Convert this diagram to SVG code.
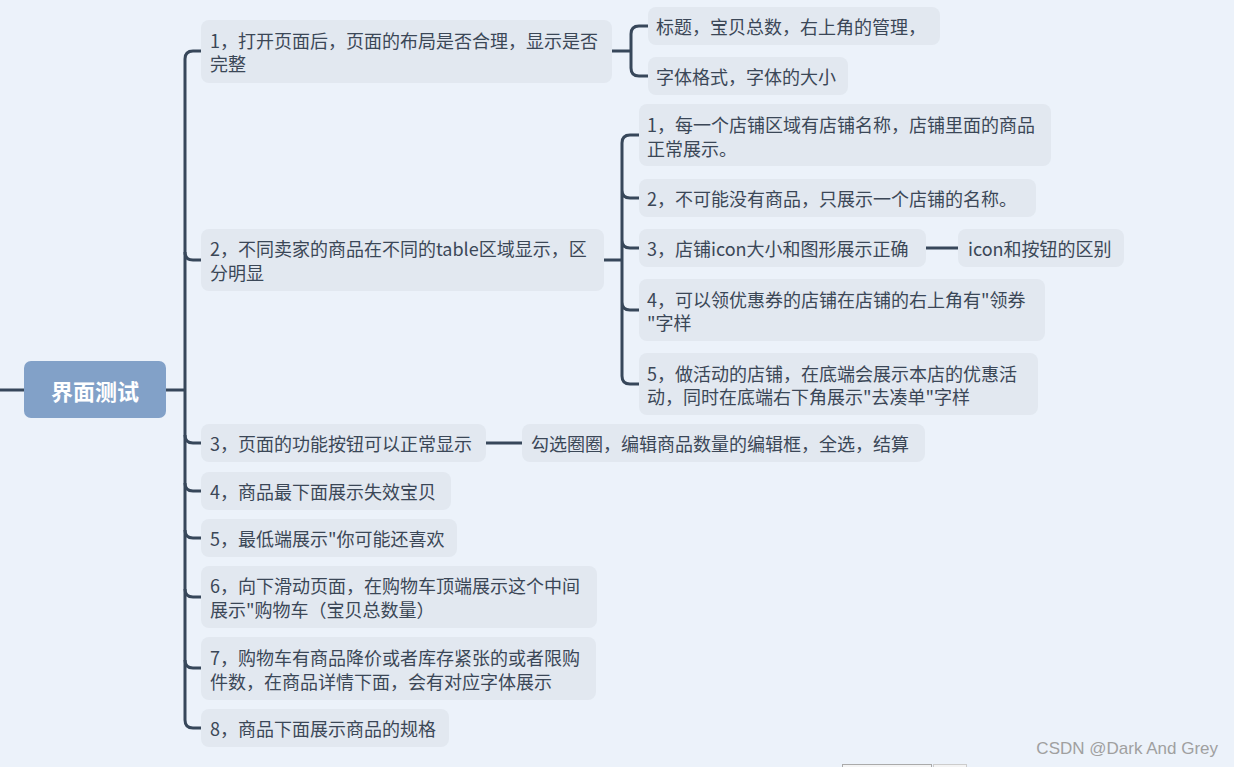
<svg xmlns="http://www.w3.org/2000/svg" width="1234" height="767" viewBox="0 0 1234 767">
<style>
.bg{fill:#ECF2FA}
.box{fill:#E2E8F0}
.t{font-family:"Noto Sans CJK SC","Noto Sans",sans-serif;font-size:18px;fill:#3B4757;dominant-baseline:central}
.root{fill:#82A1C8}
.rt{font-family:"Noto Sans CJK SC","Noto Sans",sans-serif;font-size:22px;font-weight:bold;fill:#FFFFFF;dominant-baseline:central;text-anchor:middle}
.c{fill:none;stroke:#37475A;stroke-width:3;stroke-linecap:butt}
</style>
<rect class="bg" x="0" y="0" width="1234" height="767"/>
<g id="connectors">
<path class="c" d="M0 390 H24 M166 390 H185"/>
<path class="c" d="M201 51 H193 Q185 51 185 59 V720 Q185 728 193 728 H201"/>
<path class="c" d="M185 252 Q185 260 193 260 H201 M185 435 Q185 443 193 443 H201 M185 483 Q185 491 193 491 H201 M185 530 Q185 538 193 538 H201 M185 589 Q185 597 193 597 H201 M185 660 Q185 668 193 668 H201"/>
<path class="c" d="M612 51 H631 M648 26 H639 Q631 26 631 34 V68 Q631 76 639 76 H648"/>
<path class="c" d="M604 260 H622 M639 135 H630 Q622 135 622 143 V376 Q622 384 630 384 H639 M622 190 Q622 198 630 198 H639 M622 240 Q622 248 630 248 H639 M622 302 Q622 310 630 310 H639"/>
<path class="c" d="M486 443 H522 M926 248 H958"/>
</g>
<g id="root"><rect class="root" x="24" y="361" width="142" height="57" rx="7"/><text class="rt" x="95" y="390">界面测试</text></g>
<g id="n1"><rect class="box" x="201" y="20" width="411" height="63" rx="8"/><text class="t"><tspan x="210" y="40">1，打开页面后，页面的布局是否合理，显示是否</tspan><tspan x="210" y="63">完整</tspan></text></g>
<g id="n1a"><rect class="box" x="648" y="7" width="292" height="38" rx="8"/><text class="t" x="656" y="26">标题，宝贝总数，右上角的管理，</text></g>
<g id="n1b"><rect class="box" x="648" y="57" width="200" height="38" rx="8"/><text class="t" x="656" y="76">字体格式，字体的大小</text></g>
<g id="n2"><rect class="box" x="201" y="229" width="403" height="62" rx="8"/><text class="t"><tspan x="210" y="248">2，不同卖家的商品在不同的table区域显示，区</tspan><tspan x="210" y="272">分明显</tspan></text></g>
<g id="n2a"><rect class="box" x="639" y="104" width="412" height="62" rx="8"/><text class="t"><tspan x="647" y="124">1，每一个店铺区域有店铺名称，店铺里面的商品</tspan><tspan x="647" y="148">正常展示。</tspan></text></g>
<g id="n2b"><rect class="box" x="639" y="179" width="397" height="38" rx="8"/><text class="t" x="647" y="198">2，不可能没有商品，只展示一个店铺的名称。</text></g>
<g id="n2c"><rect class="box" x="639" y="229" width="287" height="38" rx="8"/><text class="t" x="647" y="248">3，店铺icon大小和图形展示正确</text></g>
<g id="n2c1"><rect class="box" x="958" y="229" width="166" height="38" rx="8"/><text class="t" x="968" y="248">icon和按钮的区别</text></g>
<g id="n2d"><rect class="box" x="639" y="279" width="406" height="62" rx="8"/><text class="t"><tspan x="647" y="299">4，可以领优惠券的店铺在店铺的右上角有"领券</tspan><tspan x="647" y="322">"字样</tspan></text></g>
<g id="n2e"><rect class="box" x="639" y="353" width="399" height="62" rx="8"/><text class="t"><tspan x="647" y="373">5，做活动的店铺，在底端会展示本店的优惠活</tspan><tspan x="647" y="396">动，同时在底端右下角展示"去凑单"字样</tspan></text></g>
<g id="n3"><rect class="box" x="201" y="424" width="285" height="38" rx="8"/><text class="t" x="210" y="443">3，页面的功能按钮可以正常显示</text></g>
<g id="n3a"><rect class="box" x="522" y="424" width="403" height="38" rx="8"/><text class="t" x="531" y="443">勾选圈圈，编辑商品数量的编辑框，全选，结算</text></g>
<g id="n4"><rect class="box" x="201" y="472" width="250" height="38" rx="8"/><text class="t" x="210" y="491">4，商品最下面展示失效宝贝</text></g>
<g id="n5"><rect class="box" x="201" y="519" width="256" height="38" rx="8"/><text class="t" x="210" y="538">5，最低端展示"你可能还喜欢</text></g>
<g id="n6"><rect class="box" x="201" y="566" width="396" height="62" rx="8"/><text class="t"><tspan x="210" y="585">6，向下滑动页面，在购物车顶端展示这个中间</tspan><tspan x="210" y="609">展示"购物车（宝贝总数量）</tspan></text></g>
<g id="n7"><rect class="box" x="201" y="637" width="395" height="63" rx="8"/><text class="t"><tspan x="210" y="657">7，购物车有商品降价或者库存紧张的或者限购</tspan><tspan x="210" y="681">件数，在商品详情下面，会有对应字体展示</tspan></text></g>
<g id="n8"><rect class="box" x="201" y="709" width="248" height="38" rx="8"/><text class="t" x="210" y="728">8，商品下面展示商品的规格</text></g>
<text x="1218" y="754" font-family="Liberation Sans Narrow, Liberation Sans, sans-serif" font-size="17" fill="#A0A0A0" text-anchor="end">CSDN @Dark And Grey</text>
<rect x="842.5" y="764.5" width="89" height="6" fill="#F4F4F4" stroke="#AAAAAA"/>
<rect x="933.5" y="764.5" width="33" height="6" fill="#F4F4F4" stroke="#CCCCCC"/>
</svg>
